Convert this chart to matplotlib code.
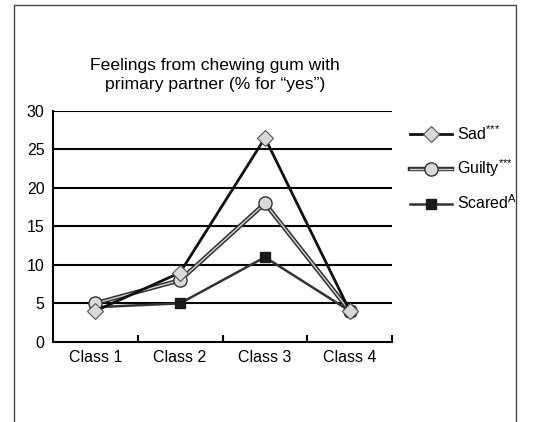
import matplotlib
matplotlib.use("Agg")
import matplotlib.pyplot as plt
import matplotlib.patheffects as pe
from matplotlib.lines import Line2D

plt.rcParams['font.family'] = ['Liberation Sans', 'DejaVu Sans']
plt.rcParams['mathtext.fontset'] = 'custom'
plt.rcParams['mathtext.rm'] = 'Liberation Sans'
plt.rcParams['mathtext.it'] = 'Liberation Sans'

classes = ["Class 1", "Class 2", "Class 3", "Class 4"]
sad = [4, 9, 26.5, 4]
guilty = [5, 8, 18, 4]
scared = [4.5, 5, 11, 4]
yticks = [0, 5, 10, 15, 20, 25, 30]

fig = plt.figure(figsize=(5.33, 4.22), dpi=100)
ax = fig.add_axes([0.099, 0.19, 0.637, 0.547])

x = range(len(classes))

# frame around the whole chart
fig.add_artist(Line2D([14/533, 14/533, 516/533, 516/533], [-0.1, 1-5/422, 1-5/422, -0.1],
                      transform=fig.transFigure, color="#444444", lw=1.0))

for y in yticks[1:]:
    ax.axhline(y, color="black", lw=1.5, zorder=1)

sc, = ax.plot(x, scared, color="#333333", lw=1.8, marker="s", ms=7,
              mfc="#1a1a1a", mec="#1a1a1a", zorder=3)
# guilty: hollow double line, markers drawn separately so they keep a thin edge
gl, = ax.plot(x, guilty, color="#d0d0d0", lw=1.0, zorder=4,
              path_effects=[pe.Stroke(linewidth=3.2, foreground="#333333"), pe.Normal()])
gm, = ax.plot(x, guilty, ls="none", marker="o", ms=9.5,
              mfc="#d9d9d9", mec="#333333", mew=1.0, zorder=4)
sd, = ax.plot(x, sad, color="#111111", lw=2.0, marker="D", ms=8,
              mfc="#d9d9d9", mec="#555555", mew=0.8, zorder=5)

ax.set_xlim(-0.5, 3.5)
ax.set_ylim(0, 30)
ax.set_yticks(yticks)
ax.tick_params(axis="y", length=0, labelsize=11.5, pad=6)
ax.set_xticks(list(x))
ax.set_xticklabels(classes)
ax.set_xticks([0.5, 1.5, 2.5, 3.5], minor=True)
ax.tick_params(axis="x", which="major", length=0, labelsize=11.5, pad=6)
ax.tick_params(axis="x", which="minor", length=5, width=1.5, direction="in")
for s in ["top", "right"]:
    ax.spines[s].set_visible(False)
for s in ["left", "bottom"]:
    ax.spines[s].set_linewidth(1.5)

fig.text(215/533, 1-75/422, "Feelings from chewing gum with\nprimary partner (% for \u201cyes\u201d)",
         ha="center", va="center", fontsize=12.6, linespacing=1.3)

ax.legend([sd, (gl, gm), sc],
          [r"Sad$^{{*}{*}{*}}$", r"Guilty$^{{*}{*}{*}}$", r"Scared$^{\mathrm{A}}$"],
          loc="upper left", bbox_to_anchor=(396/533, 1-110/422),
          bbox_transform=fig.transFigure, frameon=False, fontsize=11.5,
          handlelength=2.6, labelspacing=0.9, handletextpad=0.35)

fig.savefig("out.png", dpi=100)
